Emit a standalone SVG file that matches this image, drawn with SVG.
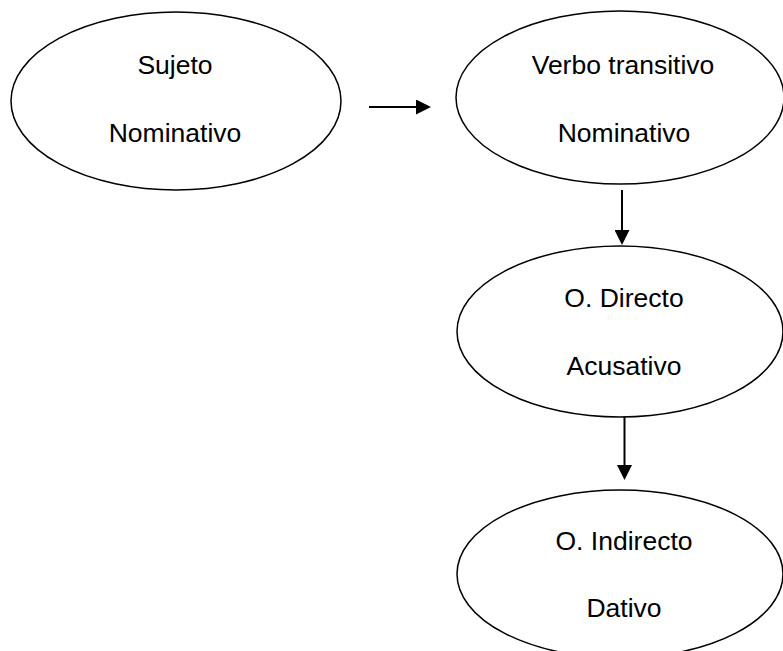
<svg xmlns="http://www.w3.org/2000/svg" width="783" height="651" viewBox="0 0 783 651">
<style>
.node ellipse{fill:#fff;stroke:#000;stroke-width:1.5}
.node text{font-family:"Liberation Sans",Arial,sans-serif;font-size:26.5px;fill:#000;text-anchor:middle}
.conn line{stroke:#000;stroke-width:2}
</style>
<defs>
<marker id="ah" markerUnits="userSpaceOnUse" markerWidth="15" markerHeight="15" refX="2" refY="7.5" orient="auto">
<path d="M0,0 L15,7.5 L0,15 z" fill="#000"/>
</marker>
</defs>
<rect width="783" height="651" fill="#fff"/>
<g id="sujeto" class="node">
<ellipse cx="176" cy="101" rx="165" ry="89"/>
<text x="175" y="74">Sujeto</text>
<text x="175" y="142">Nominativo</text>
</g>
<g id="verbo" class="node">
<ellipse cx="620" cy="97.5" rx="164" ry="86.5"/>
<text x="623" y="74">Verbo transitivo</text>
<text x="624" y="142">Nominativo</text>
</g>
<g id="directo" class="node">
<ellipse cx="620" cy="331.5" rx="163" ry="85.5"/>
<text x="624" y="307">O. Directo</text>
<text x="624" y="375">Acusativo</text>
</g>
<g id="indirecto" class="node">
<ellipse cx="620" cy="574" rx="163" ry="84"/>
<text x="624" y="550">O. Indirecto</text>
<text x="624" y="617">Dativo</text>
</g>
<g id="connectors" class="conn">
<line x1="369" y1="107" x2="418" y2="107" marker-end="url(#ah)"/>
<line x1="622" y1="190" x2="622" y2="232" marker-end="url(#ah)"/>
<line x1="624.5" y1="417" x2="624.5" y2="467" marker-end="url(#ah)"/>
</g>
</svg>
